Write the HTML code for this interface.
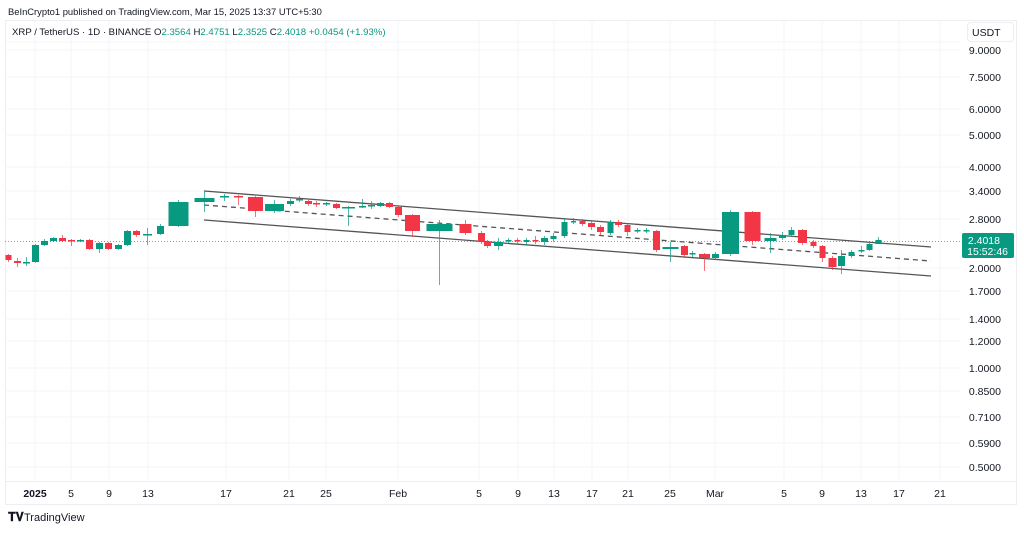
<!DOCTYPE html>
<html><head><meta charset="utf-8"><style>
body{margin:0;width:1024px;height:530px;background:#fff;overflow:hidden;font-family:"Liberation Sans",sans-serif}
</style></head><body>
<svg width="1024" height="530" xmlns="http://www.w3.org/2000/svg" font-family="Liberation Sans, sans-serif">
<text x="8" y="15" font-size="9.4" fill="#131722">BeInCrypto1 published on TradingView.com, Mar 15, 2025 13:37 UTC+5:30</text>
<rect x="5.5" y="20.5" width="1011" height="484" fill="none" stroke="#eceef2"/>
<line x1="5" y1="42" x2="960" y2="42" stroke="#f3f4f6"/>
<g stroke="#f5f6f8">
<line x1="35" y1="21" x2="35" y2="481"/><line x1="71" y1="21" x2="71" y2="481"/><line x1="109" y1="21" x2="109" y2="481"/><line x1="148" y1="21" x2="148" y2="481"/><line x1="226" y1="21" x2="226" y2="481"/><line x1="289" y1="21" x2="289" y2="481"/><line x1="326" y1="21" x2="326" y2="481"/><line x1="398" y1="21" x2="398" y2="481"/><line x1="479" y1="21" x2="479" y2="481"/><line x1="518" y1="21" x2="518" y2="481"/><line x1="554" y1="21" x2="554" y2="481"/><line x1="592" y1="21" x2="592" y2="481"/><line x1="628" y1="21" x2="628" y2="481"/><line x1="670" y1="21" x2="670" y2="481"/><line x1="715" y1="21" x2="715" y2="481"/><line x1="784" y1="21" x2="784" y2="481"/><line x1="822" y1="21" x2="822" y2="481"/><line x1="861" y1="21" x2="861" y2="481"/><line x1="899" y1="21" x2="899" y2="481"/><line x1="940" y1="21" x2="940" y2="481"/>
<line x1="5" y1="50" x2="960" y2="50"/><line x1="5" y1="77" x2="960" y2="77"/><line x1="5" y1="109" x2="960" y2="109"/><line x1="5" y1="135" x2="960" y2="135"/><line x1="5" y1="167" x2="960" y2="167"/><line x1="5" y1="191" x2="960" y2="191"/><line x1="5" y1="219" x2="960" y2="219"/><line x1="5" y1="268" x2="960" y2="268"/><line x1="5" y1="291" x2="960" y2="291"/><line x1="5" y1="319" x2="960" y2="319"/><line x1="5" y1="341" x2="960" y2="341"/><line x1="5" y1="368" x2="960" y2="368"/><line x1="5" y1="391" x2="960" y2="391"/><line x1="5" y1="417" x2="960" y2="417"/><line x1="5" y1="443" x2="960" y2="443"/><line x1="5" y1="467" x2="960" y2="467"/>
</g>
<line x1="5" y1="481.5" x2="1016" y2="481.5" stroke="#eceef2"/>
<text x="12" y="35" font-size="9.6" fill="#131722">XRP / TetherUS · 1D · BINANCE  O<tspan fill="#089981">2.3564</tspan>  H<tspan fill="#089981">2.4751</tspan>  L<tspan fill="#089981">2.3525</tspan>  C<tspan fill="#089981">2.4018</tspan>  <tspan fill="#089981">+0.0454 (+1.93%)</tspan></text>
<rect x="967.5" y="22.5" width="46" height="19" rx="3" fill="#fff" stroke="#eceef2"/>
<text x="972" y="36" font-size="10.5" fill="#131722">USDT</text>
<g font-size="10.5" fill="#131722" text-anchor="end">
<text x="1001" y="54">9.0000</text><text x="1001" y="81">7.5000</text><text x="1001" y="113">6.0000</text><text x="1001" y="139">5.0000</text><text x="1001" y="171">4.0000</text><text x="1001" y="195">3.4000</text><text x="1001" y="223">2.8000</text><text x="1001" y="272">2.0000</text><text x="1001" y="295">1.7000</text><text x="1001" y="323">1.4000</text><text x="1001" y="345">1.2000</text><text x="1001" y="372">1.0000</text><text x="1001" y="395">0.8500</text><text x="1001" y="421">0.7100</text><text x="1001" y="447">0.5900</text><text x="1001" y="471">0.5000</text>
</g>
<g font-size="10.5" fill="#131722" text-anchor="middle">
<text x="35" y="497" font-weight="bold">2025</text><text x="71" y="497">5</text><text x="109" y="497">9</text><text x="148" y="497">13</text><text x="226" y="497">17</text><text x="289" y="497">21</text><text x="326" y="497">25</text><text x="398" y="497">Feb</text><text x="479" y="497">5</text><text x="518" y="497">9</text><text x="554" y="497">13</text><text x="592" y="497">17</text><text x="628" y="497">21</text><text x="670" y="497">25</text><text x="715" y="497">Mar</text><text x="784" y="497">5</text><text x="822" y="497">9</text><text x="861" y="497">13</text><text x="899" y="497">17</text><text x="940" y="497">21</text>
</g>
<line x1="5" y1="241.5" x2="960" y2="241.5" stroke="#089981" stroke-dasharray="1,2" opacity="0.7"/>
<g stroke="#555" stroke-width="1.3">
<line x1="204" y1="191" x2="931" y2="247"/>
<line x1="204" y1="220" x2="931" y2="276"/>
<line x1="204" y1="205" x2="931" y2="261" stroke-dasharray="5,4"/>
</g>
<g id="c"></g>
<rect x="962" y="233" width="52" height="25" rx="2" fill="#089981"/>
<text x="1000" y="244" font-size="10.5" fill="#fff" text-anchor="end">2.4018</text>
<text x="1008" y="255" font-size="10.5" fill="#fff" text-anchor="end">15:52:46</text>
<text x="8" y="521" font-size="12" font-weight="bold" fill="#131722">𝐓𝐕</text>
<text x="24" y="521" font-size="11" fill="#131722">TradingView</text>
</svg>
<script>
var d=[[8,255,260,254,262,0,6],[17,261,263,258,267,0,7],[26,263,262,257,266,1,7],[35,262,245,244,263,1,7],[44,245,241,239,246,1,7],[53,241,238,237,242,1,7],[62,238,241,235,242,0,7],[71,240,241,239,246,0,7],[80,241,240,239,242,1,7],[89,240,249,239,250,0,7],[99,249,243,242,253,1,7],[108,243,249,242,250,0,7],[118,249,245,244,250,1,7],[127,245,231,230,246,1,7],[136,231,235,230,237,0,7],[147,235,234,228,245,1,9],[160,234,226,224,235,1,7],[178,226,202,200,227,1,20],[204,202,198,191,212,1,20],[224,197,196,194,201,1,9],[238,196,197,195,205,0,9],[255,197,211,196,217,0,15],[274,211,204,200,213,1,19],[290,204,201,199,206,1,7],[299,200,199,196,202,1,7],[308,201,204,200,206,0,7],[316,203,204,201,207,0,7],[326,204,203,202,206,1,7],[336,204,208,203,209,0,7],[348,208,207,206,226,1,13],[362,207,206,199,208,1,7],[371,206,205,201,209,1,7],[380,206,203,202,207,1,7],[389,203,207,202,208,0,7],[398,207,215,206,217,0,7],[412,215,231,214,237,0,15],[439,231,224,220,285,1,26],[465,224,233,220,235,0,12],[481,233,242,231,244,0,7],[487,242,246,240,248,0,7],[498,246,242,238,250,1,9],[508,241,240,238,243,1,6],[517,240,241,238,244,0,6],[526,242,240,238,245,1,6],[535,240,241,236,244,0,6],[544,242,238,236,245,1,7],[553,239,236,233,242,1,6],[564,236,222,218,238,1,6],[573,222,221,218,224,1,5],[582,221,224,219,226,0,6],[591,223,227,221,230,0,7],[600,227,232,225,235,0,7],[610,233,222,220,235,1,6],[618,222,225,220,227,0,7],[627,225,232,223,236,0,6],[637,230,230,228,233,1,6],[646,230,230,228,233,1,6],[656,231,250,230,252,0,7],[670,249,247,242,262,1,16],[684,246,255,245,258,0,7],[692,254,253,251,257,1,6],[704,254,258,253,271,0,11],[715,258,254,252,260,1,7],[730,254,212,210,256,1,17],[752,212,241,211,245,0,16],[770,241,238,233,253,1,12],[782,238,235,232,240,1,7],[791,235,230,227,237,1,6],[802,230,243,229,245,0,9],[813,242,246,240,248,0,6],[822,246,258,245,262,0,6],[832,258,267,256,270,0,8],[841,266,256,250,274,1,7],[851,256,252,250,258,1,6],[861,251,250,246,253,1,6],[869,250,244,242,251,1,6],[878,244,240,237,244,1,6]];
var g=document.getElementById('c'),s='';
d.forEach(function(c){var col=c[5]?'#089981':'#f23645';var t=Math.min(c[1],c[2]),b=Math.max(c[1],c[2]);var h=Math.max(b-t,1.5);
s+='<line x1="'+(c[0]+.5)+'" y1="'+c[3]+'" x2="'+(c[0]+.5)+'" y2="'+c[4]+'" stroke="'+col+'" opacity="0.7"/>';
s+='<rect x="'+(c[0]-c[6]/2+.5)+'" y="'+t+'" width="'+c[6]+'" height="'+h+'" fill="'+col+'"/>';});
g.innerHTML=s;
</script>
</body></html>
